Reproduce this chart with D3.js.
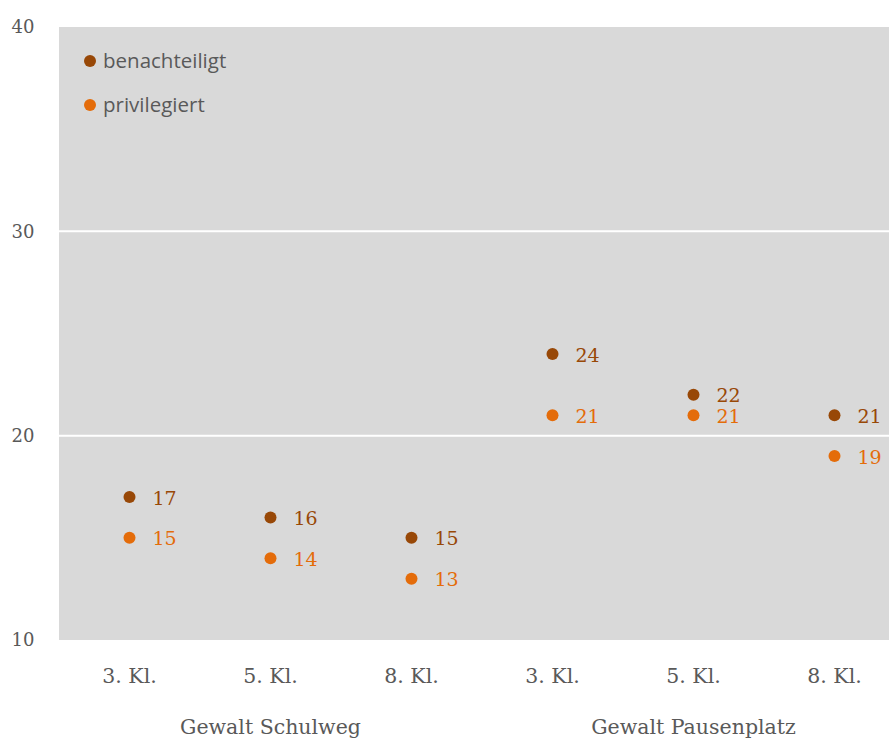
<!DOCTYPE html>
<html><head><meta charset="utf-8">
<script src="https://cdn.jsdelivr.net/npm/d3@7"></script>
<style>body{margin:0;background:#fff}svg{display:block}</style>
</head><body>
<svg id="c" width="889" height="738"></svg>
<script>
const categories = ["3. Kl.","5. Kl.","8. Kl.","3. Kl.","5. Kl.","8. Kl."];
const groups = ["Gewalt Schulweg","Gewalt Pausenplatz"];
const benachteiligt = [17,16,15,24,22,21];
const privilegiert = [15,14,13,21,21,19];
const yTicks = [10,20,30,40];
const seriesNames = ["benachteiligt","privilegiert"];
const colors = ["#984807","#E46C0A"];

(function(){
const svg = d3.select("#c");
const mLeft = 59, mTop = 27, mBottom = 640, band = 141;
const x = d3.scaleBand().domain(d3.range(6)).range([mLeft, mLeft + band*6]).padding(0);
const y = d3.scaleLinear().domain([10,40]).range([mBottom, mTop]);
const serif = "'DejaVu Serif','Liberation Serif',serif";

svg.append("rect").attr("x", mLeft).attr("y", mTop).attr("width", 889-mLeft).attr("height", mBottom-mTop).attr("fill","#d9d9d9");
svg.selectAll(".grid").data(yTicks.filter(t=>t>10&&t<40)).join("line")
  .attr("x1", mLeft).attr("x2", 889).attr("y1", d=>y(d)).attr("y2", d=>y(d))
  .attr("stroke","#fff").attr("stroke-width",2);

svg.selectAll(".yt").data(yTicks).join("text")
  .attr("x", 23).attr("y", d=>y(d)).attr("dy","0.35em").attr("text-anchor","middle")
  .attr("font-family", serif).attr("font-size",18).attr("fill","#595959").text(d=>d);

svg.selectAll(".xt").data(categories).join("text")
  .attr("x",(d,i)=>x(i)+band/2).attr("y",676).attr("dy","0.35em").attr("text-anchor","middle")
  .attr("font-family", serif).attr("font-size",20.5).attr("fill","#595959").text(d=>d);

svg.selectAll(".gt").data(groups).join("text")
  .attr("x",(d,i)=>x(i*3+1)+band/2).attr("y",727).attr("dy","0.35em").attr("text-anchor","middle")
  .attr("font-family", serif).attr("font-size",20.5).attr("fill","#595959").text(d=>d);

[benachteiligt, privilegiert].forEach((vals, s) => {
  const g = svg.append("g");
  g.selectAll("circle").data(vals).join("circle")
    .attr("cx",(d,i)=>x(i)+band/2).attr("cy",d=>y(d)).attr("r",6).attr("fill",colors[s]);
  g.selectAll("text").data(vals).join("text")
    .attr("x",(d,i)=>x(i)+band/2+23).attr("y",d=>y(d)).attr("dy","0.4em")
    .attr("font-family", serif).attr("font-size",19).attr("fill",colors[s]).text(d=>d);
});

const leg = svg.append("g");
seriesNames.forEach((n,i)=>{
  leg.append("circle").attr("cx",90).attr("cy",61+44*i).attr("r",6).attr("fill",colors[i]);
  leg.append("text").attr("x",103).attr("y",61+44*i).attr("dy","0.35em")
    .attr("font-family","'Open Sans','Noto Sans',sans-serif").attr("font-size",20.5).attr("fill","#595959").text(n);
});
})();
</script>
</body></html>
